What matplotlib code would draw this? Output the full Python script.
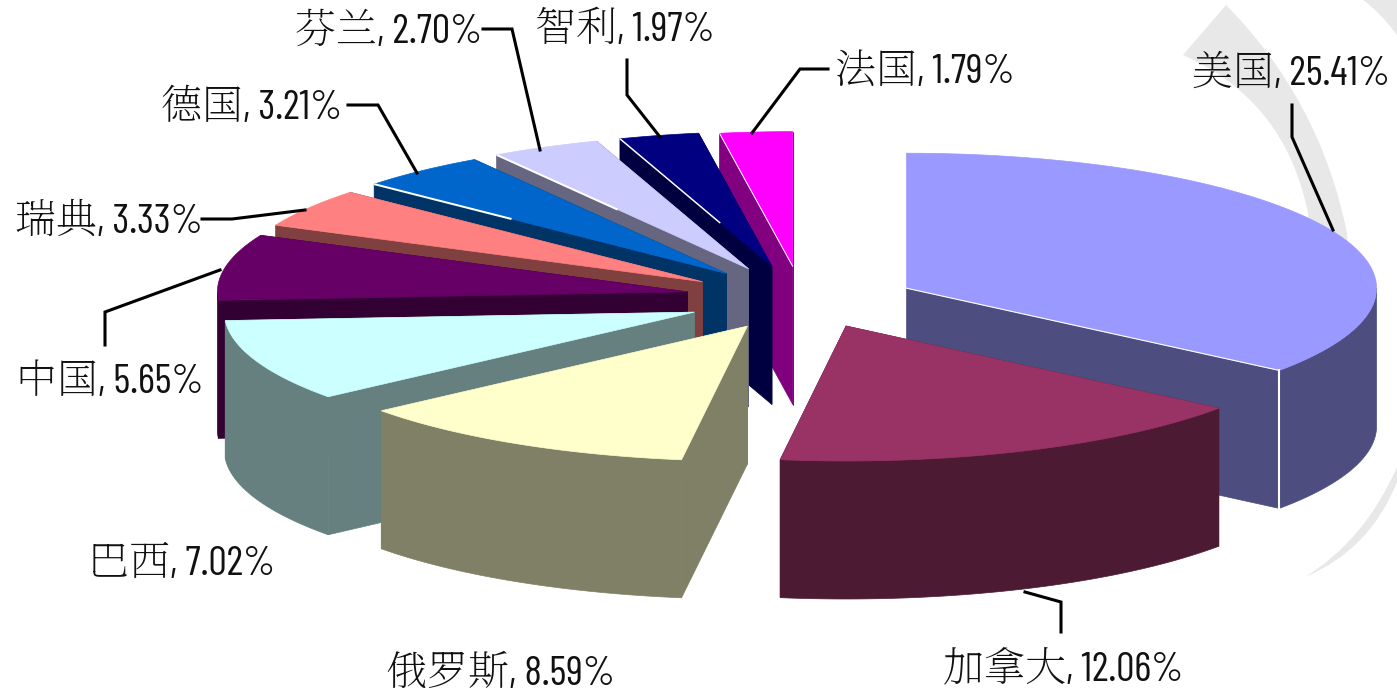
import numpy as np
from matplotlib import pyplot as plt
from matplotlib.patches import PathPatch
from matplotlib.path import Path

# share of each country, clockwise from 12 o'clock
countries = ['美国', '加拿大', '俄罗斯', '巴西', '中国', '瑞典', '德国', '芬兰', '智利', '法国']
shares = [25.41, 12.06, 8.59, 7.02, 5.65, 3.33, 3.21, 2.70, 1.97, 1.79]

top_colors = ['#9999FF', '#993366', '#FFFFCC', '#CCFFFF', '#660066',
              '#FF8080', '#0066CC', '#CCCCFF', '#000080', '#FF00FF']
side_colors = ['#4D4D80', '#4D1A33', '#808066', '#668080', '#330033',
               '#804040', '#003366', '#666680', '#000040', '#800080']

# pie geometry in pixels
CX, CY = 802, 300
RX, RY = 470, 135
DEPTH = 138
explode = 0.248
nudge = [(0, 3), (0, -5), (3, -3), (1, 0), (0, -2), (-2, 0), (0, -1), (-3, -1), (-2, -1), (0, 0)]
draw_order = [0, 1, 9, 8, 7, 6, 5, 4, 3, 2]
# how much of the radial edge gets the white highlight, from the rim inwards
white_edge = {6: (0.39, 2), 7: (0.48, 2), 8: (0.66, 1.5), 9: (1, 1)}

label_pos = [(1192, 74), (943, 670), (386, 674), (88, 564), (16, 382),
             (15, 222), (161, 108), (295, 32), (535, 30), (835, 72)]
leaders = {0: [(1292, 105), (1292, 137), (1333, 230)],
           1: [(1025, 592), (1061, 602), (1061, 632)],
           4: [(105, 345), (105, 312), (220, 270)],
           5: [(202, 219), (232, 219), (305, 210)],
           6: [(348, 105), (378, 105), (417, 173)],
           7: [(483, 29), (512, 29), (540, 150)],
           8: [(627, 60), (627, 95), (660, 137)],
           9: [(828, 69), (800, 69), (752, 133)]}

fig = plt.figure(figsize=(13.97, 6.94), dpi=100)
ax = fig.add_axes([0, 0, 1, 1])
ax.set_xlim(0, 1397)
ax.set_ylim(694, 0)
ax.axis('off')

# grey swoosh from the slide background
M, L, Q, Z = Path.MOVETO, Path.LINETO, Path.CURVE3, Path.CLOSEPOLY
swoosh = [([(1226, 5), (1183, 55), (1285, 100), (1308, 213), (1312, 300), (1350, 300),
            (1347, 233), (1320, 100), (1226, 5), (1226, 5)],
           [M, L, Q, Q, L, L, L, Q, Q, Z]),
          ([(1397, 467), (1365, 540), (1305, 577), (1370, 550), (1397, 482), (1397, 467)],
           [M, Q, Q, Q, Q, Z]),
          ([(1363, 0), (1380, 12), (1397, 35), (1397, 0), (1363, 0)],
           [M, Q, Q, L, Z])]
for verts, codes in swoosh:
    ax.add_patch(PathPatch(Path(verts, codes), fc='#E8E8E8', lw=0, zorder=0))

edges = np.cumsum([0] + shares) / sum(shares) * 360


def rim(a0, a1, ox, oy):
    t = np.radians(np.linspace(a0, a1, 80))
    return ox + RX * np.sin(t), oy - RY * np.cos(t)


for i in draw_order:
    a0, a1 = edges[i], edges[i + 1]
    mid = np.radians((a0 + a1) / 2)
    ox = CX + explode * RX * np.sin(mid) + nudge[i][0]
    oy = CY - explode * RY * np.cos(mid) + nudge[i][1]
    xs, ys = rim(a0, a1, ox, oy)
    c = side_colors[i]
    # radial walls
    for x, y in [(xs[0], ys[0]), (xs[-1], ys[-1])]:
        ax.fill([ox, x, x, ox], [oy, y, y + DEPTH, oy + DEPTH], color=c, lw=0.5)
    # outer wall, front half only
    f0, f1 = max(a0, 90), min(a1, 270)
    if f0 < f1:
        fx, fy = rim(f0, f1, ox, oy)
        ax.fill(np.r_[fx, fx[::-1]], np.r_[fy, fy[::-1] + DEPTH], color=c, lw=0.5)
    # top face
    ax.fill(np.r_[ox, xs], np.r_[oy, ys], color=top_colors[i], lw=0.5)
    if i in white_edge:
        frac, w = white_edge[i]
        ax.plot([xs[0], xs[0] + frac * (ox - xs[0])], [ys[0], ys[0] + frac * (oy - ys[0])],
                color='white', lw=w * 0.72, solid_capstyle='butt')
    if i == 0:
        ax.plot([xs[-1], ox], [ys[-1], oy], color='white', lw=0.8)
        ax.plot([xs[-1], xs[-1]], [ys[-1], ys[-1] + DEPTH], color='white', lw=1.5)

for i, pts in leaders.items():
    ax.plot(*zip(*pts), color='black', lw=2.2, solid_joinstyle='miter', zorder=5)

for name, val, (x, y) in zip(countries, shares, label_pos):
    ax.text(x, y, f'{name}, {val:.2f}%', ha='left', va='center', fontsize=29.5, color='#111111',
            family=['Barlow Condensed', 'Noto Serif SC', 'Noto Sans CJK SC', 'DejaVu Sans'], zorder=6)

fig.savefig('out.png', dpi=100)
